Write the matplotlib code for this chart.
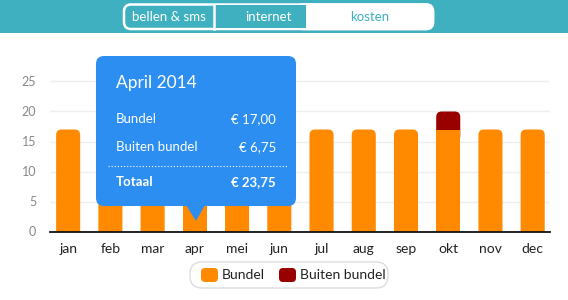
import matplotlib
matplotlib.use("Agg")
import matplotlib.pyplot as plt
from matplotlib.patches import FancyBboxPatch, Rectangle, Polygon
import numpy as np

plt.rcParams['font.family'] = ['Lato', 'DejaVu Sans']

months = ["jan", "feb", "mar", "apr", "mei", "jun", "jul", "aug", "sep", "okt", "nov", "dec"]
bundel = [17, 17, 17, 17, 17, 17, 17, 17, 17, 17, 17, 17]
buiten = [0, 0, 0, 6.75, 0, 0, 0, 0, 0, 3, 0, 0]
yticks = [0, 5, 10, 15, 20, 25]
tabs = ["bellen & sms", "internet", "kosten"]
series_names = ["Bundel", "Buiten bundel"]
tip_title = "April 2014"
tip_rows = [("Bundel", "€ 17,00"), ("Buiten bundel", "€ 6,75")]
tip_total = ("Totaal", "€ 23,75")

ORANGE = "#ff8a00"
DRED = "#990000"
TEAL = "#3fb0bf"
BLUE = "#2d8ef2"

W, H = 568, 300
fig = plt.figure(figsize=(W / 100, H / 100), dpi=100)
PX = fig.dpi_scale_trans


def px(x, y):
    return x / 100.0, (H - y) / 100.0


# axes: y=0 at pixel 231, 6 px per unit
ax_left, ax_right = 50, 550
y0_px, top_px = 231.5, 66
ylim_top = (y0_px - top_px) / 6.0
xl0, xl1 = -0.43, 11.41
ax = fig.add_axes([ax_left / W, (H - y0_px) / H, (ax_right - ax_left) / W, (y0_px - top_px) / H])
ax.set_ylim(0, ylim_top)
ax.set_xlim(xl0, xl1)

x = np.arange(len(months))
bw = 0.57
b1 = ax.bar(x, bundel, width=bw, color=ORANGE, zorder=4)
b2 = ax.bar(x, buiten, width=bw, bottom=bundel, color=DRED, zorder=3)

# rounded tops: replace the top segment of each stack with a rounded box
xpp = (xl1 - xl0) / (ax_right - ax_left)
ypp = 1 / 6.0
aspect = ypp / xpp
r = 5.5 * xpp
ext = 2.0
for i in range(len(months)):
    top_seg = b2[i] if buiten[i] > 0 else b1[i]
    top_seg.set_visible(False)
    x0 = top_seg.get_x()
    yb = top_seg.get_y() - ext
    h = top_seg.get_height() + ext
    fb = FancyBboxPatch((x0, yb), top_seg.get_width(), h,
                        boxstyle=f"round,pad=0,rounding_size={r}",
                        mutation_aspect=aspect, facecolor=top_seg.get_facecolor(),
                        edgecolor="none", zorder=3 if buiten[i] > 0 else 4)
    ax.add_patch(fb)

ax.set_yticks(yticks)
ax.set_xticks(x)
ax.set_xticklabels(months, fontsize=10, color="#222222")
ax.tick_params(axis="x", length=0, pad=8)
ax.tick_params(axis="y", length=0, pad=10, labelsize=9, labelcolor="#888888")
ax.grid(axis="y", color="#eeeeee", lw=1, zorder=0)
for s in ["top", "right", "left"]:
    ax.spines[s].set_visible(False)
ax.spines["bottom"].set_color("#111111")
ax.spines["bottom"].set_linewidth(1.3)
ax.spines["bottom"].set_zorder(5)

# ---- top banner ----
fig.patches.append(Rectangle(px(0, 33), W / 100, 33 / 100, transform=PX,
                             facecolor=TEAL, edgecolor="none", zorder=0))
bx0, bx1, by0, by1 = 124, 433, 4.5, 29
fig.patches.append(FancyBboxPatch(px(bx0, by1), (bx1 - bx0) / 100, (by1 - by0) / 100,
                                  boxstyle="round,pad=0,rounding_size=0.07", transform=PX,
                                  facecolor=TEAL, edgecolor="white", lw=1.8, zorder=1))
fig.patches.append(FancyBboxPatch(px(296, by1), (bx1 - 296) / 100, (by1 - by0) / 100,
                                  boxstyle="round,pad=0,rounding_size=0.07", transform=PX,
                                  facecolor="white", edgecolor="white", lw=1.8, zorder=2))
fig.patches.append(Rectangle(px(215, by1 - 1), (306 - 215) / 100, (by1 - by0 - 2) / 100,
                             transform=PX, facecolor=TEAL, edgecolor="none", zorder=3))
fig.lines.append(plt.Line2D([2.14, 2.14], [(H - by0) / 100, (H - by1) / 100], transform=PX,
                            color="white", lw=1.8, zorder=4))
tab_x = [169, 268, 370]
tab_c = ["white", "white", TEAL]
for t, tx, c in zip(tabs, tab_x, tab_c):
    fig.text(*px(tx, 17), t, transform=PX, ha="center", va="center", fontsize=9.5, color=c, zorder=5)

# ---- tooltip ----
tx0, tx1, ty0, ty1 = 96, 296, 56, 206
fig.patches.append(FancyBboxPatch(px(tx0, ty1), (tx1 - tx0) / 100, (ty1 - ty0) / 100,
                                  boxstyle="round,pad=0,rounding_size=0.08", transform=PX,
                                  facecolor=BLUE, edgecolor="none", zorder=10))
fig.patches.append(Polygon([px(186, 205), px(205, 205), px(196, 221)], closed=True,
                           transform=PX, facecolor=BLUE, edgecolor="none", zorder=10))
fig.text(*px(116, 83), tip_title, transform=PX, ha="left", va="center", fontsize=12.5,
         color="white", zorder=11)
for (lab, val), yy in zip(tip_rows, [119, 147]):
    fig.text(*px(116, yy), lab, transform=PX, ha="left", va="center", fontsize=9.5,
             color="white", zorder=11)
    fig.text(*px(276, yy), val, transform=PX, ha="right", va="center", fontsize=9.5,
             color="white", zorder=11)
fig.lines.append(plt.Line2D([1.08, 2.87], [(H - 166) / 100] * 2, transform=PX, color="white",
                            lw=0.8, ls=(0, (1, 1.8)), zorder=11))
fig.text(*px(116, 182), tip_total[0], transform=PX, ha="left", va="center", fontsize=9.5,
         color="white", fontweight="bold", zorder=11)
fig.text(*px(276, 182), tip_total[1], transform=PX, ha="right", va="center", fontsize=9.5,
         color="white", fontweight="bold", zorder=11)

# ---- legend ----
lx0, lx1, ly0, ly1 = 190, 388, 262, 288
fig.patches.append(FancyBboxPatch(px(lx0, ly1), (lx1 - lx0) / 100, (ly1 - ly0) / 100,
                                  boxstyle="round,pad=0,rounding_size=0.12", transform=PX,
                                  facecolor="white", edgecolor="#dddddd", lw=1, zorder=1))
for (sx, tx), col, name in zip([(201, 222), (279, 300)], [ORANGE, DRED], series_names):
    fig.patches.append(FancyBboxPatch(px(sx, 282), 0.17, 0.14,
                                      boxstyle="round,pad=0,rounding_size=0.04", transform=PX,
                                      facecolor=col, edgecolor="none", zorder=2))
    fig.text(*px(tx, 275), name, transform=PX, ha="left", va="center", fontsize=10,
             color="#222222", zorder=3)

fig.savefig("out.png", dpi=100)
